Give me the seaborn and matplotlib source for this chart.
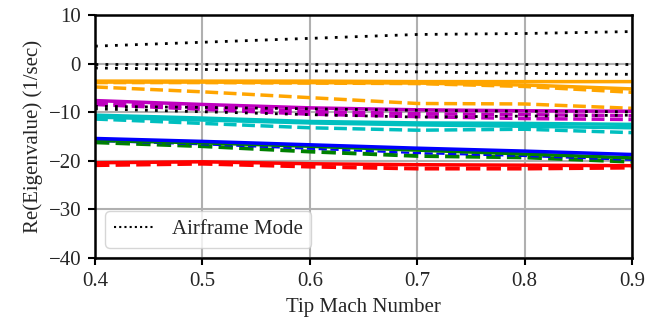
import numpy as np
import pandas as pd
import seaborn as sns
import matplotlib
matplotlib.use("Agg")
import matplotlib.pyplot as plt
from matplotlib.lines import Line2D

mach = [0.4, 0.5, 0.6, 0.7, 0.8, 0.9]

# Airframe modes (black dotted)
airframe_1 = [3.6, 4.4, 5.2, 6.0, 6.2, 6.6]
airframe_2 = [0.0, 0.0, 0.0, 0.0, 0.0, 0.0]
airframe_3 = [-0.9, -1.2, -1.5, -1.7, -2.0, -2.2]
airframe_4 = [-8.8, -9.0, -9.3, -9.6, -9.8, -9.9]
airframe_5 = [-9.3, -9.9, -10.5, -11.0, -10.8, -10.6]

# Rotor modes: solid and dashed variants
orange_solid_1 = [-3.6, -3.6, -3.6, -3.7, -3.7, -3.7]
orange_solid_2 = [-3.8, -3.8, -3.9, -4.0, -4.4, -5.2]
orange_dash_1 = [-3.9, -3.9, -4.0, -4.1, -4.7, -5.9]
orange_dash_2 = [-4.8, -5.8, -7.0, -8.2, -8.3, -9.2]

magenta_solid = [-7.6, -8.4, -9.1, -9.5, -9.7, -9.8]
magenta_dash_1 = [-8.1, -9.0, -9.8, -10.3, -10.5, -10.7]
magenta_dash_2 = [-8.4, -9.4, -10.4, -10.9, -11.3, -11.5]

cyan_solid_1 = [-10.6, -11.2, -11.9, -12.2, -12.3, -12.5]
cyan_solid_2 = [-11.0, -11.6, -12.2, -12.6, -12.9, -13.2]
cyan_dash = [-11.4, -12.3, -13.2, -13.7, -13.5, -14.2]

blue_solid = [-15.4, -16.0, -16.7, -17.4, -18.0, -18.7]
blue_dash = [-15.9, -16.6, -17.5, -18.4, -19.0, -19.8]
green_solid = [-15.8, -16.3, -17.0, -17.8, -18.6, -19.4]
green_dash = [-16.2, -17.0, -18.1, -19.0, -19.3, -20.2]

red_solid = [-20.4, -20.2, -20.6, -20.8, -20.9, -21.0]
red_dash = [-20.9, -20.6, -21.2, -21.6, -21.6, -21.4]

x_ticks = [0.4, 0.5, 0.6, 0.7, 0.8, 0.9]
y_ticks = [-40, -30, -20, -10, 0, 10]

sns.set_theme(style="white", color_codes=False)
plt.rcParams["font.family"] = ["Liberation Serif", "DejaVu Serif"]
plt.rcParams["mathtext.fontset"] = "stix"

fig = plt.figure(figsize=(6.57, 3.27), dpi=100)
ax = fig.add_axes([0.1446, 0.211, 0.8174, 0.743])

ORANGE = "#FFA500"
MAGENTA = "#BF00BF"
CYAN = "#00BFBF"
BLUE = "#0000FF"
GREEN = "#008000"
RED = "#FF0000"

dot = (0, (1, 2.6))
series = [
    (orange_solid_1, ORANGE, "-", 2.5), (orange_solid_2, ORANGE, "-", 2.5),
    (orange_dash_1, ORANGE, "--", 2.5), (orange_dash_2, ORANGE, "--", 2.5),
    (magenta_solid, MAGENTA, "-", 2.5), (magenta_dash_1, MAGENTA, "--", 2.5),
    (magenta_dash_2, MAGENTA, "--", 2.5),
    (cyan_solid_1, CYAN, "-", 2.5), (cyan_solid_2, CYAN, "-", 2.5), (cyan_dash, CYAN, "--", 2.5),
    (green_dash, GREEN, "--", 2.8), (blue_dash, BLUE, "--", 1.6),
    (green_solid, GREEN, "-", 2.5), (blue_solid, BLUE, "-", 2.5),
    (red_dash, RED, "--", 2.8), (red_solid, RED, "-", 2.5),
]
for vals, col, ls, lw in series:
    df = pd.DataFrame({"mach": mach, "re": vals})
    sns.lineplot(data=df, x="mach", y="re", ax=ax, color=col, linestyle=ls,
                 linewidth=lw, legend=False)

airframes = [airframe_1, airframe_2, airframe_3, airframe_4, airframe_5]
for i, vals in enumerate(airframes):
    df = pd.DataFrame({"mach": mach, "re": vals})
    sns.lineplot(data=df, x="mach", y="re", ax=ax, color="k", linestyle=dot,
                 linewidth=2.0, legend=False)

ax.set_xlim(0.4, 0.9)
ax.set_ylim(-40, 10)
ax.set_xticks(x_ticks)
ax.set_yticks(y_ticks)
ax.grid(True, color="#b0b0b0", linewidth=1.5)
for s in ax.spines.values():
    s.set_color("black")
    s.set_linewidth(1.8)
ax.tick_params(axis="both", direction="out", length=5, width=1.5, color="black",
               labelsize=15, bottom=True, left=True, pad=5)
ax.set_xlabel("Tip Mach Number", fontsize=15, labelpad=5)
ax.set_ylabel("Re(Eigenvalue) (1/sec)", fontsize=15, labelpad=4)

proxy = Line2D([], [], color="k", linestyle=(0, (1, 1.5)), linewidth=1.5)
leg = ax.legend([proxy], ["Airframe Mode"], loc="lower left", fontsize=15, framealpha=0.8,
                fancybox=True, handlelength=2.0)
leg.get_frame().set_edgecolor("#cccccc")

fig.savefig("out.png", dpi=100)
